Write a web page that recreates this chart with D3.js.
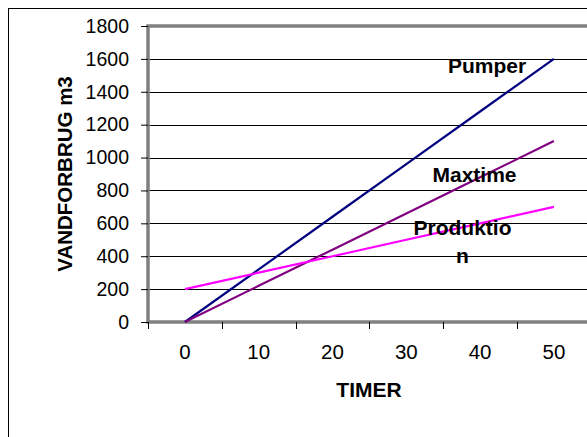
<!DOCTYPE html>
<html>
<head>
<meta charset="utf-8">
<script src="https://cdn.jsdelivr.net/npm/d3@7"></script>
<style>
  html, body { margin: 0; padding: 0; background: #fff; overflow: hidden; }
  svg { display: block; font-family: "Liberation Sans", Arial, sans-serif; }
</style>
</head>
<body>
<svg id="chart" width="587" height="437"></svg>
<script>
// Hours on the category axis
const hours = ["0", "10", "20", "30", "40", "50"];
// Water consumption (m3) per series
const pumper = [0, 320, 640, 960, 1280, 1600];
const maxtime = [0, 220, 440, 660, 880, 1100];
const produktion = [200, 300, 400, 500, 600, 700];
// Value axis ticks
const yTicks = [0, 200, 400, 600, 800, 1000, 1200, 1400, 1600, 1800];

const series = [
  { name: "Pumper", values: pumper, color: "#000080" },
  { name: "Maxtime", values: maxtime, color: "#800080" },
  { name: "Produktion", values: produktion, color: "#FF00FF" }
];

const svg = d3.select("#chart");

// Plot area geometry (the area runs past the right edge of the page)
const plotLeft = 148, plotTop = 26, plotBottom = 322;
const band = 73.8;
const plotRight = plotLeft + band * hours.length;

const x = d3.scaleBand().domain(hours).range([plotLeft, plotRight]).paddingInner(0).paddingOuter(0);
const y = d3.scaleLinear().domain([0, 1800]).range([plotBottom, plotTop]);

// Outer chart frame
svg.append("rect")
  .attr("x", 8.5).attr("y", 8.5)
  .attr("width", 620).attr("height", 460)
  .attr("fill", "#fff").attr("stroke", "#000").attr("stroke-width", 1);

// Horizontal gridlines
svg.append("g").selectAll("line")
  .data(yTicks.filter(d => d > 0 && d < 1800))
  .join("line")
  .attr("x1", plotLeft).attr("x2", 600)
  .attr("y1", d => Math.round(y(d)) + 0.5).attr("y2", d => Math.round(y(d)) + 0.5)
  .attr("stroke", "#000").attr("stroke-width", 1);

// Plot area border: top, left and bottom in gray
svg.append("path")
  .attr("d", `M600,${plotTop} H${plotLeft} V${plotBottom} H600`)
  .attr("fill", "none").attr("stroke", "#808080").attr("stroke-width", 3.5);

// Value axis
const yAxis = d3.axisLeft(y).tickValues(yTicks).tickFormat(d3.format("d"))
  .tickSize(7).tickPadding(12).tickSizeOuter(0);
const gy = svg.append("g").attr("transform", `translate(${plotLeft},0)`).call(yAxis);
gy.select(".domain").remove();
gy.selectAll(".tick line").attr("stroke", "#000");
gy.selectAll(".tick text")
  .attr("font-size", 19.5).attr("fill", "#000")
  .attr("font-family", "'Liberation Sans', Arial, sans-serif");

// Category axis: ticks on band boundaries, labels centred in the bands
const gx = svg.append("g");
gx.selectAll("line")
  .data(hours.map(h => x(h)))
  .join("line")
  .attr("x1", d => Math.round(d) + 0.5).attr("x2", d => Math.round(d) + 0.5)
  .attr("y1", plotBottom).attr("y2", plotBottom + 7)
  .attr("stroke", "#000");
gx.selectAll("text")
  .data(hours)
  .join("text")
  .attr("x", d => x(d) + x.bandwidth() / 2)
  .attr("y", 359)
  .attr("text-anchor", "middle")
  .attr("font-size", 20.5)
  .text(d => d);

// Series lines through band centres
const line = d3.line()
  .x((d, i) => x(hours[i]) + x.bandwidth() / 2)
  .y(d => y(d));

svg.append("g").selectAll("path")
  .data(series)
  .join("path")
  .attr("d", d => line(d.values))
  .attr("fill", "none")
  .attr("stroke", d => d.color)
  .attr("stroke-width", 2.2);

// Series labels
const labelFont = 21;
svg.append("text").attr("x", 487).attr("y", 73)
  .attr("text-anchor", "middle").attr("font-weight", "bold").attr("font-size", labelFont)
  .text("Pumper");
svg.append("text").attr("x", 474.5).attr("y", 182)
  .attr("text-anchor", "middle").attr("font-weight", "bold").attr("font-size", labelFont)
  .text("Maxtime");
const prod = svg.append("text")
  .attr("text-anchor", "middle").attr("font-weight", "bold").attr("font-size", labelFont);
prod.append("tspan").attr("x", 462.5).attr("y", 235).text("Produktio");
prod.append("tspan").attr("x", 462.5).attr("y", 263).text("n");

// Axis titles
svg.append("text")
  .attr("transform", `translate(72,${(plotTop + plotBottom) / 2}) rotate(-90)`)
  .attr("text-anchor", "middle").attr("font-weight", "bold").attr("font-size", 20.5)
  .text("VANDFORBRUG m3");
svg.append("text")
  .attr("x", 369).attr("y", 397)
  .attr("text-anchor", "middle").attr("font-weight", "bold").attr("font-size", 21)
  .text("TIMER");
</script>
</body>
</html>
